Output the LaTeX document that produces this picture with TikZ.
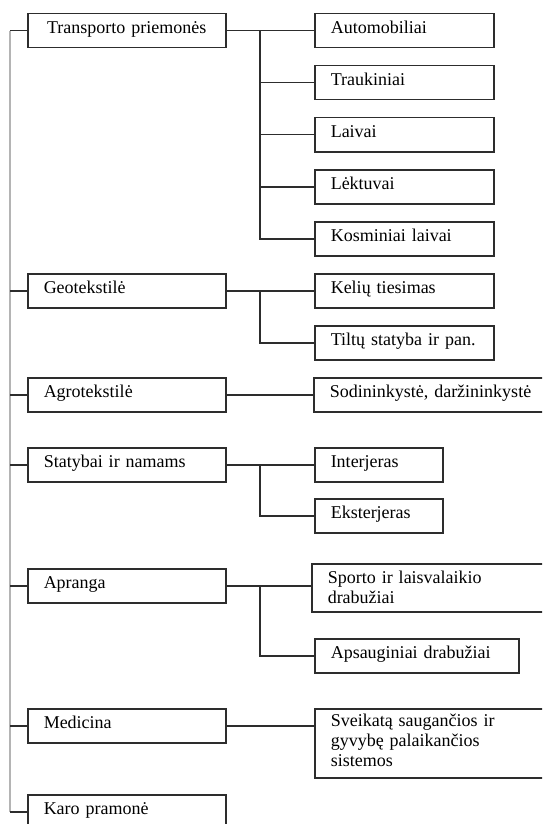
\documentclass[tikz,border=0pt]{standalone}
\usepackage{fontspec}
\setmainfont{Liberation Serif}
\definecolor{boxline}{RGB}{45,45,45}
\definecolor{spinegray}{RGB}{180,180,180}
\begin{document}
\begin{tikzpicture}[x=1pt,y=-1pt,
	box/.style={draw=boxline, line width=1.5pt, anchor=north west, inner xsep=16pt, inner ysep=2pt, align=left, font=\fontsize{18}{20}\selectfont},
	single/.style={box, minimum height=34pt, text height=12pt, text depth=6pt},
	lbox/.style={single, text width=166pt},
	rbox/.style={single, text width=147pt},
	link/.style={draw=boxline, line width=1.5pt},
	spine/.style={draw=spinegray, line width=1.5pt}]
	\useasboundingbox (0,0) rectangle (542,824);
	\clip (0,0) rectangle (542,824);
	% left column
	\node[lbox, align=center] (tr) at (27,13) {Transporto priemonės};
	\node[lbox] (geo) at (27,273) {Geotekstilė};
	\node[lbox] (agro) at (27,377) {Agrotekstilė};
	\node[lbox] (stat) at (27,447) {Statybai ir namams};
	\node[lbox] (apr) at (27,568) {Apranga};
	\node[lbox] (med) at (27,708) {Medicina};
	\node[lbox] (karo) at (27,794) {Karo pramonė};
	% right column
	\node[rbox] (auto) at (314,13) {Automobiliai};
	\node[rbox] (trauk) at (314,65) {Traukiniai};
	\node[rbox] (laiv) at (314,117) {Laivai};
	\node[rbox] (lekt) at (314,169) {Lėktuvai};
	\node[rbox] (kosm) at (314,221) {Kosminiai laivai};
	\node[rbox] (kel) at (314,273) {Kelių tiesimas};
	\node[rbox] (tilt) at (314,325) {Tiltų statyba ir pan.};
	\node[single, text width=218pt] (sod) at (313,377) {Sodininkystė, daržininkystė};
	\node[single, text width=96pt] (int) at (314,447) {Interjeras};
	\node[single, text width=96pt] (eks) at (314,498) {Eksterjeras};
	\node[box, text width=218pt, minimum height=48pt] (spo) at (311,563) {Sporto ir laisvalaikio\\drabužiai};
	\node[single, text width=172pt] (aps) at (314,638) {Apsauginiai drabužiai};
	\node[box, text width=218pt, minimum height=69pt] (sve) at (314,708) {Sveikatą saugančios ir\\gyvybę palaikančios\\sistemos\strut};
	% connectors
	\coordinate (sx) at (10,0);
	\coordinate (jx) at (260,0);
	\draw[spine] (tr.west -| sx) -- (karo.west -| sx);
	\foreach \n in {tr,geo,agro,stat,apr,med,karo}
		\draw[link] (\n.west -| sx) -- (\n.west);
	\draw[link] (tr.east) -- (auto.west);
	\foreach \c in {trauk,laiv,lekt,kosm}
		\draw[link] (tr.east -| jx) |- (\c.west);
	\draw[link] (geo.east) -- (geo.east -| kel.west);
	\draw[link] (geo.east -| jx) |- (tilt.west);
	\draw[link] (agro.east) -- (agro.east -| sod.west);
	\draw[link] (stat.east) -- (stat.east -| int.west);
	\draw[link] (stat.east -| jx) |- (eks.west);
	\draw[link] (apr.east) -- (apr.east -| spo.west);
	\draw[link] (apr.east -| jx) |- (aps.west);
	\draw[link] (med.east) -- (med.east -| sve.west);
\end{tikzpicture}
\end{document}
